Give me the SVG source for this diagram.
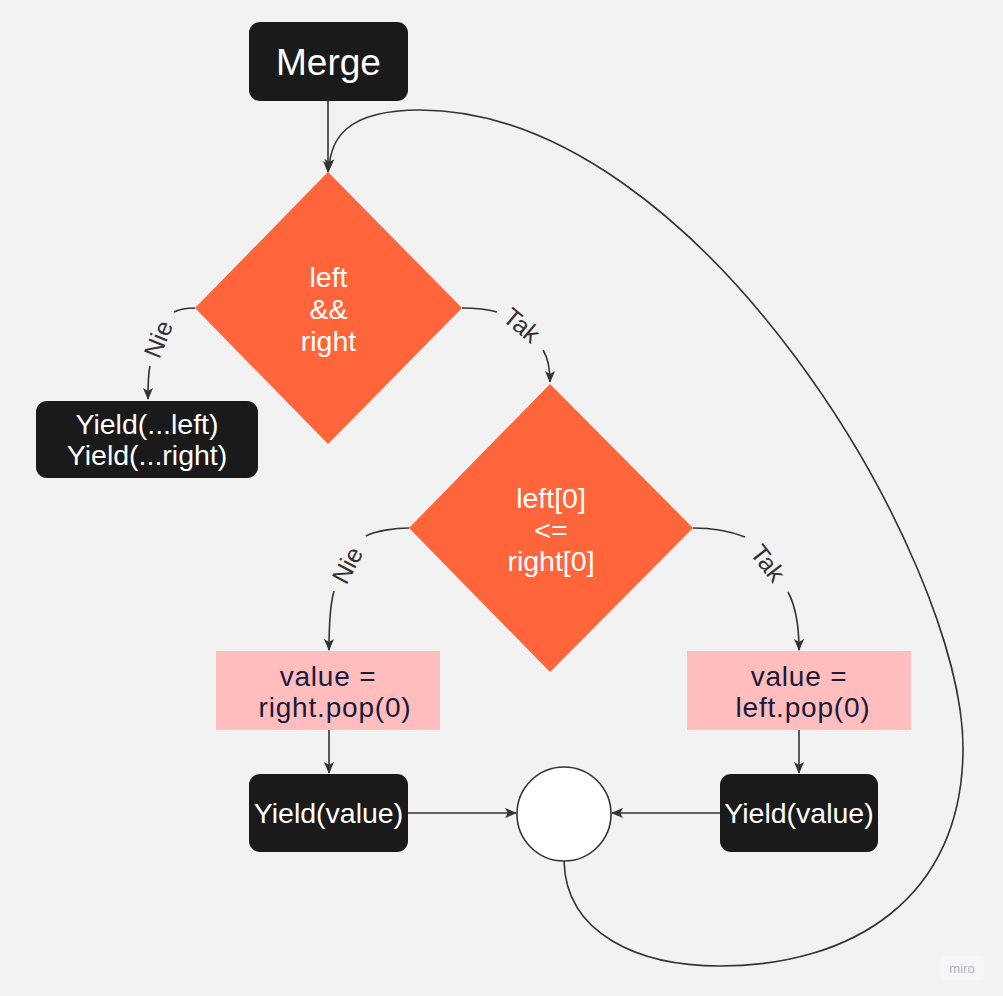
<svg xmlns="http://www.w3.org/2000/svg" width="1003" height="996" viewBox="0 0 1003 996">
<defs>
<style>
.dark{fill:#1a1a1a}
.dia{fill:#ff653b}
.pink{fill:#ffbdbd}
.wt{fill:#ffffff;font-family:"Liberation Sans",Arial,sans-serif;font-size:28.5px;text-anchor:middle}
.dt{fill:#1a1a3a;font-family:"Liberation Sans",Arial,sans-serif;font-size:28px;letter-spacing:0.8px;text-anchor:middle}
.lbl{fill:#333333;font-family:"Liberation Sans",Arial,sans-serif;font-size:25px;text-anchor:middle}
.edge{fill:none;stroke:#333333;stroke-width:1.6}
</style>
<marker id="ah" viewBox="0 0 12 12" refX="11" refY="6" markerWidth="12" markerHeight="12" markerUnits="userSpaceOnUse" orient="auto">
<path d="M0,1 L12,6 L0,11 L3,6 Z" fill="#333333"/>
</marker>
</defs>
<rect width="1003" height="996" fill="#f2f2f2"/>
<g id="connectors">
<path class="edge" d="M328,101 L328,172" marker-end="url(#ah)"/>
<path class="edge" d="M564,861 C566,935 640,966 720,966 C850,966 963,900 963,748 C963,560 700,110 420,110 C345,110 330,140 329,170" marker-end="url(#ah)"/>
<path class="edge" d="M195,308 C185,308 178,310 174,312"/>
<path class="edge" d="M150,366 C148,375 148,388 148,399" marker-end="url(#ah)"/>
<path class="edge" d="M462,308 C475,308 490,310 497,312"/>
<path class="edge" d="M543,350 C548,358 550,368 550,382" marker-end="url(#ah)"/>
<path class="edge" d="M409,528 C395,528 375,531 366,536"/>
<path class="edge" d="M334,591 C330,605 329,625 329,650" marker-end="url(#ah)"/>
<path class="edge" d="M693,528 C712,528 730,531 745,537"/>
<path class="edge" d="M788,592 C795,605 799,625 799,650" marker-end="url(#ah)"/>
<path class="edge" d="M329,730 L329,773" marker-end="url(#ah)"/>
<path class="edge" d="M799,730 L799,773" marker-end="url(#ah)"/>
<path class="edge" d="M408,813 L516,813" marker-end="url(#ah)"/>
<path class="edge" d="M720,813 L612,813" marker-end="url(#ah)"/>
<text class="lbl" transform="translate(158,339) rotate(-68)" dy="9">Nie</text>
<text class="lbl" transform="translate(522,325) rotate(40)" dy="9">Tak</text>
<text class="lbl" transform="translate(347,565) rotate(-62)" dy="9">Nie</text>
<text class="lbl" transform="translate(768,563) rotate(52)" dy="9">Tak</text>
</g>
<g id="merge">
<rect class="dark" x="249" y="22" width="159" height="79" rx="11"/>
<text class="wt" x="328.5" y="75" style="font-size:37px">Merge</text>
</g>
<g id="cond1">
<polygon class="dia" points="328,172 462,308 328,444 195,308"/>
<text class="wt" x="328.5" y="287">left</text>
<text class="wt" x="328.5" y="319">&amp;&amp;</text>
<text class="wt" x="328.5" y="351">right</text>
</g>
<g id="yield-rest">
<rect class="dark" x="36" y="401" width="222" height="77" rx="11"/>
<text class="wt" x="147" y="434">Yield(...left)</text>
<text class="wt" x="147" y="465">Yield(...right)</text>
</g>
<g id="cond2">
<polygon class="dia" points="550,384 693,528 550,672 409,528"/>
<text class="wt" x="551" y="508">left[0]</text>
<text class="wt" x="551" y="540">&lt;=</text>
<text class="wt" x="551" y="571">right[0]</text>
</g>
<g id="pop-right">
<rect class="pink" x="216" y="651" width="224" height="79"/>
<text class="dt" x="328" y="686">value =</text>
<text class="dt" x="335" y="717">right.pop(0)</text>
</g>
<g id="pop-left">
<rect class="pink" x="687" y="651" width="224" height="79"/>
<text class="dt" x="799" y="686">value =</text>
<text class="dt" x="803" y="717">left.pop(0)</text>
</g>
<g id="yield-left">
<rect class="dark" x="249" y="774" width="159" height="78" rx="11"/>
<text class="wt" x="328.5" y="823">Yield(value)</text>
</g>
<g id="yield-right">
<rect class="dark" x="720" y="774" width="158" height="78" rx="11"/>
<text class="wt" x="799" y="823">Yield(value)</text>
</g>
<g id="join">
<circle cx="564" cy="814" r="47" fill="#ffffff" stroke="#333333" stroke-width="1.6"/>
</g>
<g id="watermark">
<rect x="940" y="956" width="44" height="24" rx="4" fill="#f6f6f6"/>
<text x="962" y="973" fill="#b4b4c0" font-family="'Liberation Sans',Arial,sans-serif" font-size="13" text-anchor="middle">miro</text>
</g>
</svg>
